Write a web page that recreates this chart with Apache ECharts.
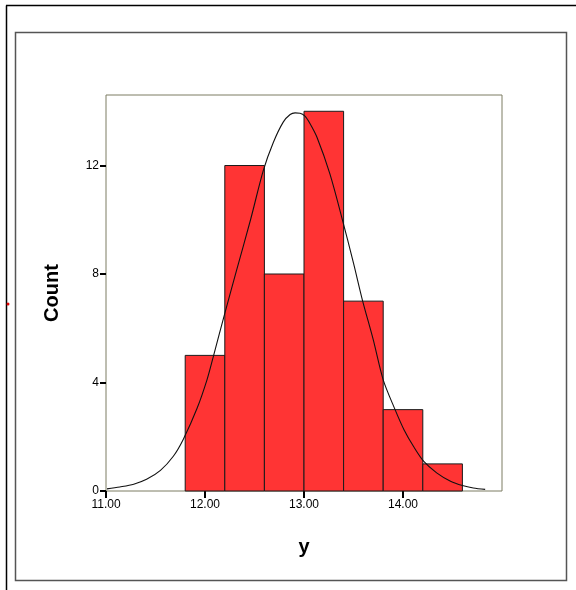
<!DOCTYPE html>
<html>
<head>
<meta charset="utf-8">
<script src="https://cdn.jsdelivr.net/npm/echarts@6/dist/echarts.min.js"></script>
<style>
html,body{margin:0;padding:0;background:#fff;}
#chart{width:576px;height:590px;}
</style>
</head>
<body>
<div id="chart"></div>
<script>
// Histogram bins (y) and counts
var binStarts = [11.8, 12.2, 12.6, 13.0, 13.4, 13.8, 14.2];
var binEnds   = [12.2, 12.6, 13.0, 13.4, 13.8, 14.2, 14.6];
var counts    = [5, 12, 8, 14, 7, 3, 1];

// Normal curve points
var curveX = [11.01, 11.14, 11.28, 11.41, 11.55, 11.68, 11.78, 11.92, 12.02, 12.08, 12.20, 12.32, 12.46, 12.59, 12.69, 12.79, 12.86, 12.91, 12.96, 13.01, 13.06, 13.13, 13.26, 13.38, 13.50, 13.59, 13.70, 13.80, 13.92, 14.01, 14.11, 14.21, 14.34, 14.48, 14.60, 14.71, 14.83];
var curveY = [0.08, 0.15, 0.25, 0.43, 0.76, 1.28, 1.90, 3.05, 4.10, 4.90, 6.55, 8.15, 10.0, 11.83, 12.85, 13.60, 13.88, 13.94, 13.93, 13.82, 13.55, 13.05, 11.71, 10.11, 8.40, 7.04, 5.57, 4.10, 3.00, 2.26, 1.62, 1.09, 0.67, 0.36, 0.20, 0.11, 0.06];

// Tick values and labels
var xTicks = [11, 12, 13, 14];
var yTicks = [0, 4, 8, 12];

var histData = binStarts.map(function (s, i) { return [s, binEnds[i], counts[i]]; });
var curveData = curveX.map(function (x, i) { return [x, curveY[i]]; });

var chart = echarts.init(document.getElementById('chart'), null, {renderer: 'canvas'});
chart.setOption({
  animation: false,
  backgroundColor: '#ffffff',
  grid: {
    left: 106, right: 74, top: 95, bottom: 99,
    show: true, borderColor: '#7d7d62', borderWidth: 1, backgroundColor: '#ffffff'
  },
  xAxis: {
    type: 'value', min: 11, max: 15, interval: 1,
    name: 'y', nameLocation: 'middle', nameGap: 46,
    nameTextStyle: {fontFamily: 'Liberation Sans, Arial', fontWeight: 'bold', fontSize: 20, color: '#000'},
    axisLine: {show: false},
    splitLine: {show: false},
    axisTick: {show: true, length: 7, lineStyle: {color: '#000', width: 2}, customValues: xTicks},
    axisLabel: {
      customValues: xTicks, margin: 8, color: '#000', fontSize: 12,
      fontFamily: 'Liberation Sans, Arial',
      formatter: function (v) { return v.toFixed(2); }
    }
  },
  yAxis: {
    type: 'value', min: 0, max: 14.6, interval: 4,
    name: 'Count', nameLocation: 'middle', nameGap: 44,
    nameTextStyle: {fontFamily: 'Liberation Sans, Arial', fontWeight: 'bold', fontSize: 20, color: '#000'},
    axisLine: {show: false},
    splitLine: {show: false},
    axisTick: {show: true, length: 6, lineStyle: {color: '#000', width: 2}, customValues: yTicks},
    axisLabel: {customValues: yTicks, margin: 7, color: '#000', fontSize: 12, fontFamily: 'Liberation Sans, Arial'}
  },
  series: [
    {
      type: 'custom',
      data: histData,
      z: 2,
      renderItem: function (params, api) {
        var p0 = api.coord([api.value(0), api.value(2)]);
        var p1 = api.coord([api.value(1), 0]);
        return {
          type: 'rect',
          shape: {x: p0[0], y: p0[1], width: p1[0] - p0[0], height: p1[1] - p0[1]},
          style: {fill: '#ff3434', stroke: '#1a1a1a', lineWidth: 1}
        };
      }
    },
    {
      type: 'line',
      data: curveData,
      z: 3,
      smooth: 0.3,
      showSymbol: false,
      symbol: 'none',
      lineStyle: {color: '#111', width: 1.1}
    }
  ],
  graphic: [
    {type: 'line', shape: {x1: 6.5, y1: 5.5, x2: 6.5, y2: 590}, style: {stroke: '#000', lineWidth: 1.5}},
    {type: 'line', shape: {x1: 6, y1: 5.5, x2: 576, y2: 5.5}, style: {stroke: '#000', lineWidth: 1.5}},
    {type: 'rect', shape: {x: 15.5, y: 32.5, width: 551, height: 548}, style: {fill: 'none', stroke: '#555', lineWidth: 1.5}},
    {type: 'circle', shape: {cx: 8, cy: 304, r: 1.5}, style: {fill: '#e00000'}}
  ]
});
</script>
</body>
</html>
